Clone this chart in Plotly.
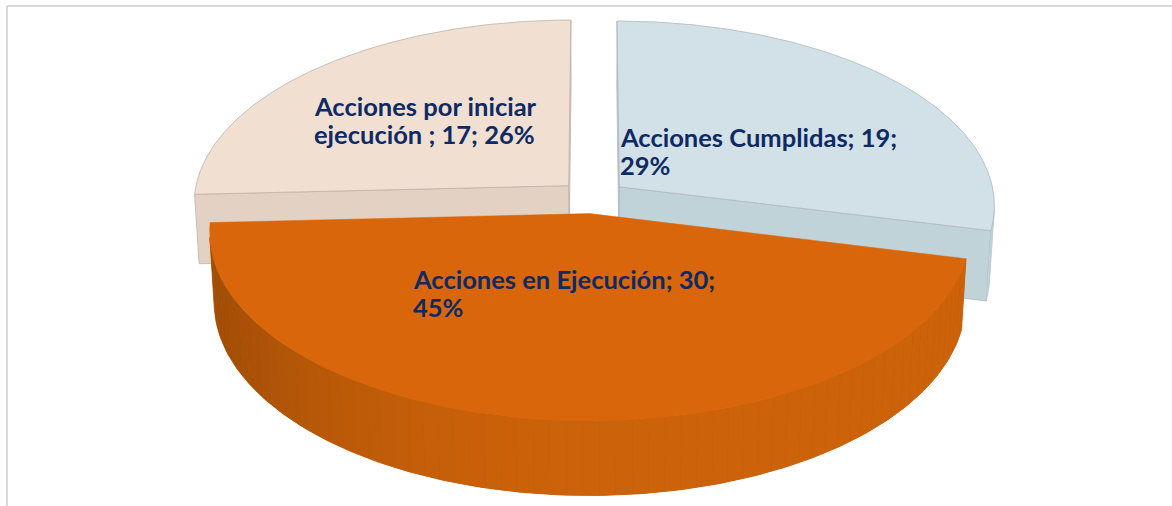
import numpy as np
import plotly.graph_objects as go

# ---------------- data ----------------
categories = ["Acciones Cumplidas", "Acciones en Ejecución", "Acciones por iniciar ejecución "]
values = [19, 30, 17]
# label lines (text wraps as in the original)
label_lines = [
    ["Acciones Cumplidas; 19;", "29%"],
    ["Acciones en Ejecución; 30;", "45%"],
    ["Acciones por iniciar", "ejecución ; 17; 26%"],
]

# ---------------- styles ----------------
top_colors = ["#D2E1E8", "#D9660A", "#F1E0D1"]
side_colors = [(192, 211, 217), (204, 98, 9), (227, 210, 196)]
edge_colors = ["#AEB8BC", None, "#BDB3AA"]
label_color = "#0E2A64"
LABEL_SIZE = 25.5
LINE_GAP = 28.3
label_pos = [(618, 145), (411, 287), (312, 114)]  # (left x, first baseline y) in pixels

W, H_PX = 1172, 506
# projection / 3D pie geometry
SX0, SY0 = 593.0, 197.0
F = 3375.0
L = 9.0
S = 0.49
C = float(np.sqrt(1 - S * S))
THICK = 0.215
EXPLODE = 0.09
CAM = np.array([0.0, L * S, L * C])


def proj(X, Y, Z):
    X = np.asarray(X, float)
    Y = np.asarray(Y, float)
    Z = np.asarray(Z, float)
    depth = L - Y * S - Z * C
    up = Y * C - Z * S
    return SX0 + F * X / depth, SY0 - F * up / depth


def rgb(t):
    return "rgb(%d,%d,%d)" % tuple(int(round(v)) for v in t)


total = float(sum(values))
fracs = [v / total for v in values]
starts = np.cumsum([0] + fracs[:-1]) * 2 * np.pi
ends = np.cumsum(fracs) * 2 * np.pi

slices = []
for i in range(len(values)):
    t1, t2 = starts[i], ends[i]
    tm = (t1 + t2) / 2
    ox, oz = EXPLODE * np.sin(tm), -EXPLODE * np.cos(tm)
    slices.append((i, t1, t2, ox, oz))

# draw back slices first
slices.sort(key=lambda s: s[4])

fig = go.Figure()


def add_poly(xs, ys, fill, line_color=None, line_width=0.6):
    xs = list(xs) + [xs[0]]
    ys = list(ys) + [ys[0]]
    fig.add_trace(go.Scatter(
        x=xs, y=ys, mode="lines", fill="toself", fillcolor=fill,
        line=dict(color=line_color if line_color else fill, width=line_width),
        hoverinfo="skip", showlegend=False))


for (i, t1, t2, ox, oz) in slices:
    faces = []  # (depth, xs, ys, color, edge, width)
    # outer wall: visible part, as a base band plus shaded strips
    n = max(8, int((t2 - t1) / (2 * np.pi) * 160))
    th = np.linspace(t1, t2, n + 1)
    vis = []
    for a, b in zip(th[:-1], th[1:]):
        m = (a + b) / 2
        nrm = np.array([np.sin(m), 0.0, -np.cos(m)])
        P = np.array([ox + np.sin(m), -THICK / 2, oz - np.cos(m)])
        if nrm @ (CAM - P) > 0:
            vis.append((a, b))
    if vis:
        ta = np.linspace(vis[0][0], vis[-1][1], 200)
        Xs = np.concatenate([ox + np.sin(ta), ox + np.sin(ta[::-1])])
        Zs = np.concatenate([oz - np.cos(ta), oz - np.cos(ta[::-1])])
        Ys = np.concatenate([np.zeros_like(ta), -THICK * np.ones_like(ta)])
        px, py = proj(Xs, Ys, Zs)
        mid = tuple(v * 0.93 for v in side_colors[i])
        faces.append((1e9, px, py, rgb(mid), None, 0.8))
        for a, b in vis:
            m = (a + b) / 2
            P = np.array([ox + np.sin(m), -THICK / 2, oz - np.cos(m)])
            Xs = [ox + np.sin(a), ox + np.sin(b), ox + np.sin(b), ox + np.sin(a)]
            Zs = [oz - np.cos(a), oz - np.cos(b), oz - np.cos(b), oz - np.cos(a)]
            Ys = [0, 0, -THICK, -THICK]
            px, py = proj(Xs, Ys, Zs)
            shade = 1 - 0.23 * max(0.0, -np.sin(m)) ** 2
            col = tuple(v * shade for v in side_colors[i])
            d = L - P[1] * S - P[2] * C
            faces.append((d, px, py, rgb(col), None, 0))
    # radial faces
    for t, sign in ((t1, -1), (t2, 1)):
        nrm = sign * np.array([np.cos(t), 0.0, np.sin(t)])
        Xs = [ox, ox + np.sin(t), ox + np.sin(t), ox]
        Zs = [oz, oz - np.cos(t), oz - np.cos(t), oz]
        Ys = [0, 0, -THICK, -THICK]
        P = np.array([np.mean(Xs), -THICK / 2, np.mean(Zs)])
        if nrm @ (CAM - P) <= 0:
            continue
        px, py = proj(Xs, Ys, Zs)
        d = L - P[1] * S - P[2] * C
        faces.append((d, px, py, rgb(side_colors[i]), edge_colors[i], 0.8 if edge_colors[i] else 0.6))
    faces.sort(key=lambda f: -f[0])
    for d, px, py, col, edge, lw in faces:
        add_poly(px, py, col, edge, lw)
    # top face
    arc = np.linspace(t1, t2, 300)
    Xs = np.concatenate([[ox], ox + np.sin(arc)])
    Zs = np.concatenate([[oz], oz - np.cos(arc)])
    px, py = proj(Xs, np.zeros_like(Xs), Zs)
    add_poly(px, py, top_colors[i], edge_colors[i], 0.8 if edge_colors[i] else 0.5)

# labels: one annotation per line, so that line spacing matches
for i, lines in enumerate(label_lines):
    x, y0 = label_pos[i]
    for k, line in enumerate(lines):
        base = y0 + k * LINE_GAP
        fig.add_annotation(
            x=x, y=base - 0.33 * LABEL_SIZE, xref="x", yref="y", text=line,
            showarrow=False, xanchor="left", yanchor="middle", align="left",
            font=dict(family="Lato", size=LABEL_SIZE, color=label_color, weight=700))

# chart frame
fig.add_shape(type="line", x0=7, y0=6, x1=W, y1=6, xref="x", yref="y",
              line=dict(color="#D9D9D9", width=2))
fig.add_shape(type="line", x0=7, y0=6, x1=7, y1=H_PX, xref="x", yref="y",
              line=dict(color="#D9D9D9", width=2))

fig.update_layout(
    width=W, height=H_PX, margin=dict(l=0, r=0, t=0, b=0),
    paper_bgcolor="white", plot_bgcolor="white",
    xaxis=dict(range=[0, W], visible=False, fixedrange=True),
    yaxis=dict(range=[H_PX, 0], visible=False, fixedrange=True),
    showlegend=False,
)
fig.write_html("out.html", config={"displayModeBar": False, "staticPlot": True},
               post_script="document.body.style.margin='0px';")
